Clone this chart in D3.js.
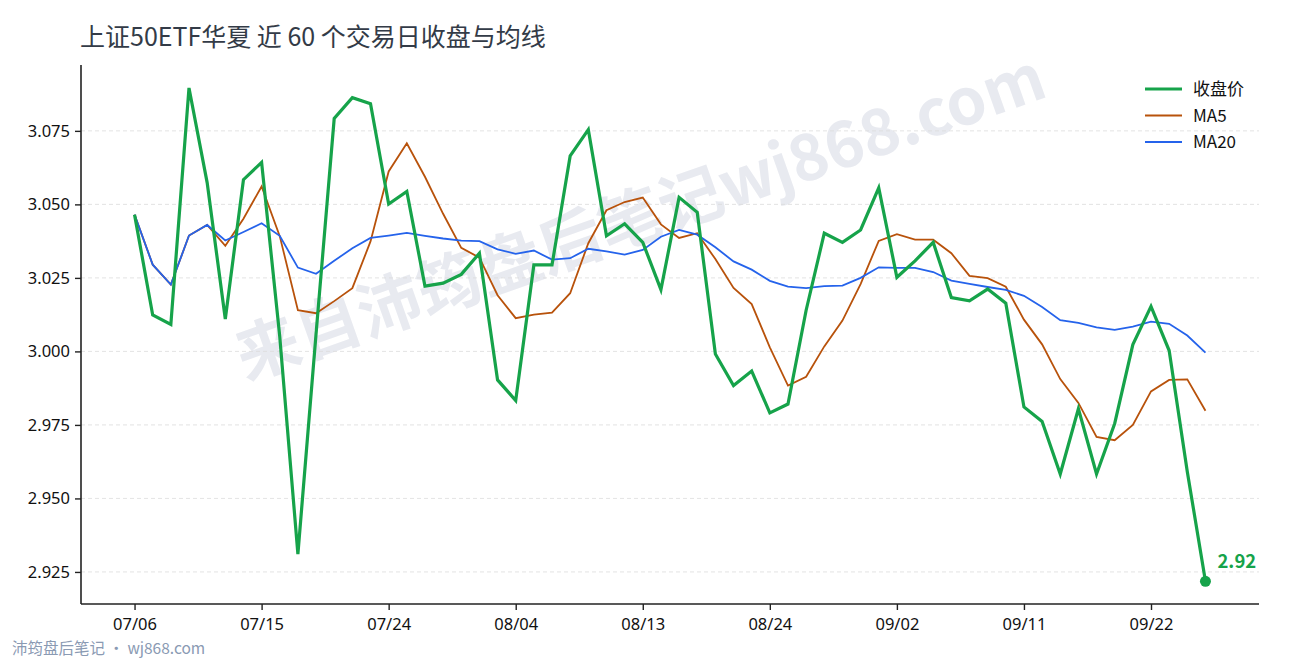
<!DOCTYPE html>
<html>
<head>
<meta charset="utf-8">
<script src="https://cdn.jsdelivr.net/npm/d3@7"></script>
<style>
  body { margin: 0; background: #fff; }
  svg { font-family: "Noto Sans CJK SC", "Noto Sans", sans-serif; }
</style>
</head>
<body>
<div class="chart_area"></div>
<script>
// trading days shown on the x axis (60 sessions)
var dates = ["07/06","07/07","07/08","07/09","07/10","07/13","07/14","07/15","07/16","07/17",
             "07/20","07/21","07/22","07/23","07/24","07/25","07/28","07/29","07/30","07/31",
             "08/01","08/04","08/05","08/06","08/07","08/08","08/11","08/12","08/13","08/14",
             "08/15","08/18","08/19","08/20","08/21","08/24","08/25","08/26","08/27","08/28",
             "08/31","09/01","09/02","09/03","09/04","09/07","09/08","09/09","09/10","09/11",
             "09/12","09/15","09/16","09/17","09/18","09/19","09/22","09/23","09/24","09/25"];

var close = [3.0465,3.0124,3.0092,3.0896,3.0574,3.0110,3.0584,3.0643,3.0050,2.9311,
             3.0060,3.0792,3.0863,3.0842,3.0501,3.0544,3.0222,3.0232,3.0262,3.0334,
             2.9903,2.9833,3.0294,3.0294,3.0665,3.0754,3.0393,3.0434,3.0371,3.0210,
             3.0524,3.0473,2.9991,2.9884,2.9933,2.9791,2.9821,3.0140,3.0402,3.0371,
             3.0413,3.0556,3.0252,3.0308,3.0371,3.0183,3.0172,3.0212,3.0164,2.9811,
             2.9762,2.9583,2.9805,2.9583,2.9755,3.0023,3.0153,3.0003,2.9591,2.9218];

var ma5 = [3.0465,3.0295,3.0227,3.0394,3.0430,3.0359,3.0451,3.0561,3.0392,3.0140,
           3.0130,3.0171,3.0215,3.0374,3.0612,3.0708,3.0594,3.0468,3.0352,3.0319,
           3.0191,3.0113,3.0125,3.0132,3.0198,3.0368,3.0480,3.0508,3.0523,3.0432,
           3.0386,3.0402,3.0314,3.0216,3.0161,3.0014,2.9884,2.9914,3.0017,3.0105,
           3.0229,3.0376,3.0399,3.0380,3.0380,3.0334,3.0257,3.0249,3.0220,3.0108,
           3.0024,2.9906,2.9825,2.9709,2.9698,2.9750,2.9864,2.9903,2.9905,2.9798];

var ma20 = [3.0465,3.0295,3.0227,3.0394,3.0430,3.0377,3.0406,3.0436,3.0393,3.0285,
            3.0264,3.0308,3.0351,3.0386,3.0394,3.0403,3.0393,3.0384,3.0377,3.0375,
            3.0347,3.0332,3.0343,3.0312,3.0317,3.0349,3.0340,3.0329,3.0345,3.0390,
            3.0413,3.0397,3.0354,3.0306,3.0278,3.0240,3.0220,3.0215,3.0222,3.0224,
            3.0250,3.0286,3.0284,3.0284,3.0270,3.0241,3.0230,3.0219,3.0209,3.0189,
            3.0151,3.0106,3.0097,3.0082,3.0073,3.0084,3.0101,3.0094,3.0054,2.9996];

var y_ticks = [2.925, 2.950, 2.975, 3.000, 3.025, 3.050, 3.075];
var x_tick_idx = [0, 7, 14, 21, 28, 35, 42, 49, 56];

var series = [
    { name: "MA5", values: ma5, color: "#b8520b", width: 1.8 },
    { name: "MA20", values: ma20, color: "#2563eb", width: 1.8 },
    { name: "收盘价", values: close, color: "#16a34a", width: 3.2 }
];
var legend_order = ["收盘价", "MA5", "MA20"];

var margin = { top: 65, right: 31, bottom: 56, left: 81 },
    width = 1290 - margin.left - margin.right,
    height = 660 - margin.top - margin.bottom;

var svg = d3.select(".chart_area")
    .append("svg")
    .attr("width", 1290)
    .attr("height", 660);

// watermark
svg.append("text")
    .attr("transform", "translate(642,222) rotate(-19.5)")
    .attr("text-anchor", "middle")
    .attr("dominant-baseline", "middle")
    .style("font-size", "64px")
    .style("font-weight", "bold")
    .style("fill", "#e8eaf0")
    .text("来自沛筠盘后笔记wj868.com");

var g = svg.append("g")
    .attr("transform", "translate(" + margin.left + "," + margin.top + ")");

var x = d3.scaleLinear().domain([-2.95, 61.95]).range([0, width]);
var y = d3.scaleLinear().domain([2.9141, 3.0974]).range([height, 0]);

// grid
g.append("g")
    .selectAll("line")
    .data(y_ticks)
    .enter()
    .append("line")
    .attr("x1", 0).attr("x2", width)
    .attr("y1", function(d){ return y(d); })
    .attr("y2", function(d){ return y(d); })
    .style("stroke", "#dcdcdc")
    .style("stroke-width", 0.8)
    .style("stroke-dasharray", "4,3");

// axes
var yAxis = g.append("g")
    .call(d3.axisLeft(y).tickValues(y_ticks).tickFormat(d3.format(".3f")).tickSize(6).tickPadding(5));
var xAxis = g.append("g")
    .attr("transform", "translate(0," + height + ")")
    .call(d3.axisBottom(x).tickValues(x_tick_idx).tickFormat(function(i){ return dates[i]; }).tickSize(6).tickPadding(8));

[yAxis, xAxis].forEach(function(a){
    a.select(".domain").style("stroke", "#222").style("stroke-width", 1.6);
    a.selectAll(".tick line").style("stroke", "#222").style("stroke-width", 1.4);
    a.selectAll(".tick text")
        .style("font-size", "16.5px")
        .style("fill", "#111")
        .style("font-family", "'Noto Sans', 'Noto Sans CJK SC', sans-serif");
});
// only keep the axis spine inside the plot
yAxis.select(".domain").attr("d", "M0,0V" + height);
xAxis.select(".domain").attr("d", "M0,0H" + width);

// lines
var line = d3.line()
    .x(function(d, i){ return x(i); })
    .y(function(d){ return y(d); });

g.append("g")
    .selectAll("path")
    .data(series)
    .enter()
    .append("path")
    .attr("d", function(s){ return line(s.values); })
    .style("fill", "none")
    .style("stroke", function(s){ return s.color; })
    .style("stroke-width", function(s){ return s.width; })
    .style("stroke-linejoin", "miter");

// last close marker
var last = close.length - 1;
g.append("circle")
    .attr("cx", x(last))
    .attr("cy", y(close[last]))
    .attr("r", 5.5)
    .style("fill", "#16a34a");
g.append("text")
    .attr("x", x(last) + 12)
    .attr("y", y(close[last]) - 13)
    .style("font-size", "18.5px")
    .style("font-weight", "bold")
    .style("fill", "#16a34a")
    .text(close[last].toFixed(2));

// legend
var legend = svg.append("g").attr("transform", "translate(1145,89)");
legend_order.forEach(function(name, k){
    var s = series.filter(function(d){ return d.name === name; })[0];
    var row = legend.append("g").attr("transform", "translate(0," + (k * 26.5) + ")");
    row.append("line")
        .attr("x1", 0).attr("x2", 37)
        .style("stroke", s.color)
        .style("stroke-width", s.width);
    row.append("text")
        .attr("x", 48)
        .attr("dy", "0.36em")
        .style("font-size", "17px")
        .style("fill", "#111")
        .text(name);
});

// title
svg.append("text")
    .attr("x", 80)
    .attr("y", 46)
    .style("font-size", "25px")
    .style("fill", "#333b47")
    .text("上证50ETF华夏 近 60 个交易日收盘与均线");

// footer
svg.append("text")
    .attr("x", 12)
    .attr("y", 654)
    .style("font-size", "15.5px")
    .style("fill", "#8a9ab3")
    .text("沛筠盘后笔记 · wj868.com");
</script>
</body>
</html>
